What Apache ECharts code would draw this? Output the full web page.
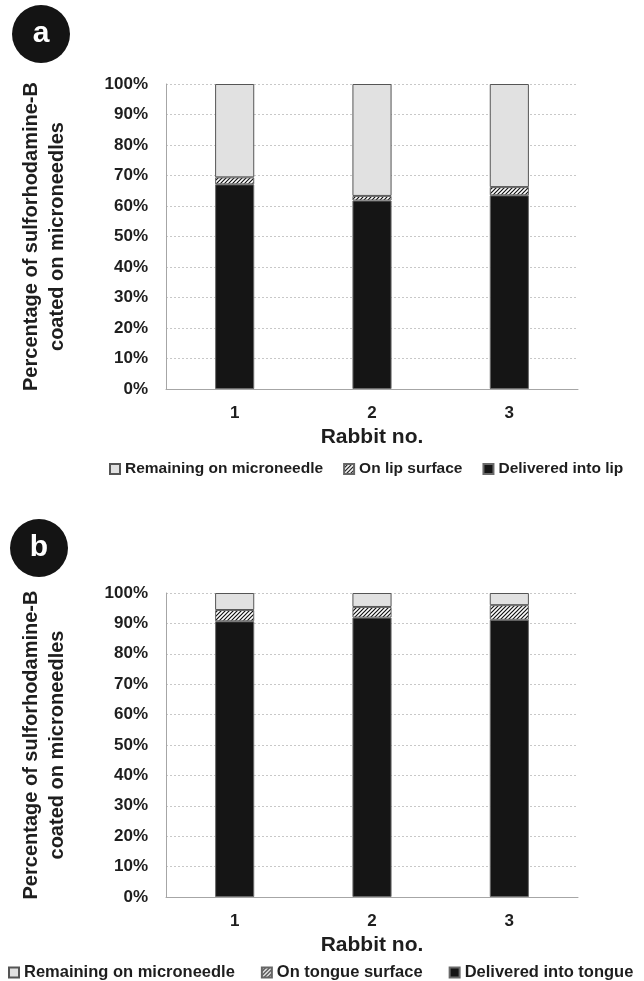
<!DOCTYPE html>
<html>
<head>
<meta charset="utf-8">
<style>
  html, body { margin: 0; padding: 0; background: #fff; }
  #chart { width: 644px; height: 981px; }
</style>
<script src="https://cdn.jsdelivr.net/npm/echarts@6/dist/echarts.min.js"></script>
</head>
<body>
<div id="chart"></div>
<script>
// Rabbit numbers on the category axis
const rabbits = ['1', '2', '3'];

// Panel a: lip (% of sulforhodamine-B coated on microneedles)
const lipDelivered = [67.1, 61.8, 63.5];
const lipSurface = [2.3, 1.5, 2.7];
const lipRemaining = [30.6, 36.7, 33.8];

// Panel b: tongue
const tongueDelivered = [90.7, 91.9, 91.2];
const tongueSurface = [3.7, 3.5, 4.8];
const tongueRemaining = [5.6, 4.6, 4.0];

// Percentage axis ticks
const yMin = 0, yMax = 100, yStep = 10;

const FONT = '"Liberation Sans", Arial, sans-serif';
const TXT = '#1e1e1e';

// diagonal hatch used for the "surface" fraction
function hatchPattern() {
  const s = 4;
  const c = document.createElement('canvas');
  c.width = s; c.height = s;
  const g = c.getContext('2d');
  g.fillStyle = '#ffffff';
  g.fillRect(0, 0, s, s);
  g.strokeStyle = '#111111';
  g.lineWidth = 1.2;
  g.beginPath();
  g.moveTo(0, s); g.lineTo(s, 0);
  g.moveTo(-1, 1); g.lineTo(1, -1);
  g.moveTo(s - 1, s + 1); g.lineTo(s + 1, s - 1);
  g.stroke();
  return { image: c, repeat: 'repeat' };
}
const hatch = hatchPattern();

const styles = {
  remaining: { color: '#e1e1e1', borderColor: '#555555', borderWidth: 1 },
  surface: { color: hatch, borderColor: '#666666', borderWidth: 1 },
  delivered: { color: '#151515', borderColor: '#6a6a6a', borderWidth: 1 }
};

const grids = [
  { left: 166, width: 412, top: 84, height: 305 },
  { left: 166, width: 412, top: 593, height: 304 }
];

function xAxisFor(i) {
  return {
    type: 'category', gridIndex: i, data: rabbits,
    axisTick: { show: false },
    axisLine: { lineStyle: { color: '#a6a6a6', width: 1 } },
    axisLabel: { color: TXT, fontFamily: FONT, fontWeight: 'bold', fontSize: 17, margin: 16 },
    name: 'Rabbit no.', nameLocation: 'middle', nameGap: 38,
    nameTextStyle: { color: TXT, fontFamily: FONT, fontWeight: 'bold', fontSize: 21 }
  };
}

function yAxisFor(i) {
  return {
    type: 'value', gridIndex: i, min: yMin, max: yMax, interval: yStep,
    axisLine: { show: true, lineStyle: { color: '#a6a6a6', width: 1 } },
    axisTick: { show: false },
    splitLine: { lineStyle: { color: '#c8c8c8', type: [2, 2], width: 1 } },
    axisLabel: {
      formatter: '{value}%', color: TXT, fontFamily: FONT, fontWeight: 'bold',
      fontSize: 17, margin: 18
    },
    name: 'Percentage of sulforhodamine-B\ncoated on microneedles',
    nameLocation: 'middle', nameRotate: 90, nameGap: 96,
    nameTextStyle: { color: TXT, fontFamily: FONT, fontWeight: 'bold', fontSize: 20, lineHeight: 26 }
  };
}

function bar(name, data, style, idx) {
  return {
    type: 'bar', name, data, stack: 'p' + idx,
    xAxisIndex: idx, yAxisIndex: idx,
    barWidth: '28.5%', itemStyle: style,
    emphasis: { disabled: true }, animation: false
  };
}

function legendFor(names, top, left, gap, size) {
  return {
    data: names, top, left, itemGap: gap, width: 644 - left,
    itemWidth: 10, itemHeight: 10, icon: 'rect', itemTextGap: 3,
    selectedMode: false,
    textStyle: { color: TXT, fontFamily: FONT, fontWeight: 'bold', fontSize: size }
  };
}

function badge(letter, cx, cy) {
  return {
    type: 'group',
    children: [
      { type: 'circle', shape: { cx, cy, r: 29 }, style: { fill: '#141414' } },
      {
        type: 'text', x: cx, y: cy,
        style: {
          text: letter, fill: '#ffffff', font: 'bold 30px ' + FONT,
          align: 'center', verticalAlign: 'middle'
        }
      }
    ]
  };
}

const chart = echarts.init(document.getElementById('chart'), null, { renderer: 'canvas' });
chart.setOption({
  animation: false,
  backgroundColor: '#ffffff',
  grid: grids,
  xAxis: [xAxisFor(0), xAxisFor(1)],
  yAxis: [yAxisFor(0), yAxisFor(1)],
  legend: [
    legendFor(['Remaining on microneedle', 'On lip surface', 'Delivered into lip'], 456, 104, 20, 15.5),
    legendFor(['Remaining on microneedle', 'On tongue surface', 'Delivered into tongue'], 959, 3, 26, 16.5)
  ],
  series: [
    bar('Delivered into lip', lipDelivered, styles.delivered, 0),
    bar('On lip surface', lipSurface, styles.surface, 0),
    bar('Remaining on microneedle', lipRemaining, styles.remaining, 0),
    bar('Delivered into tongue', tongueDelivered, styles.delivered, 1),
    bar('On tongue surface', tongueSurface, styles.surface, 1),
    bar('Remaining on microneedle', tongueRemaining, styles.remaining, 1)
  ],
  graphic: [badge('a', 41, 34), badge('b', 39, 548)]
});
</script>
</body>
</html>
